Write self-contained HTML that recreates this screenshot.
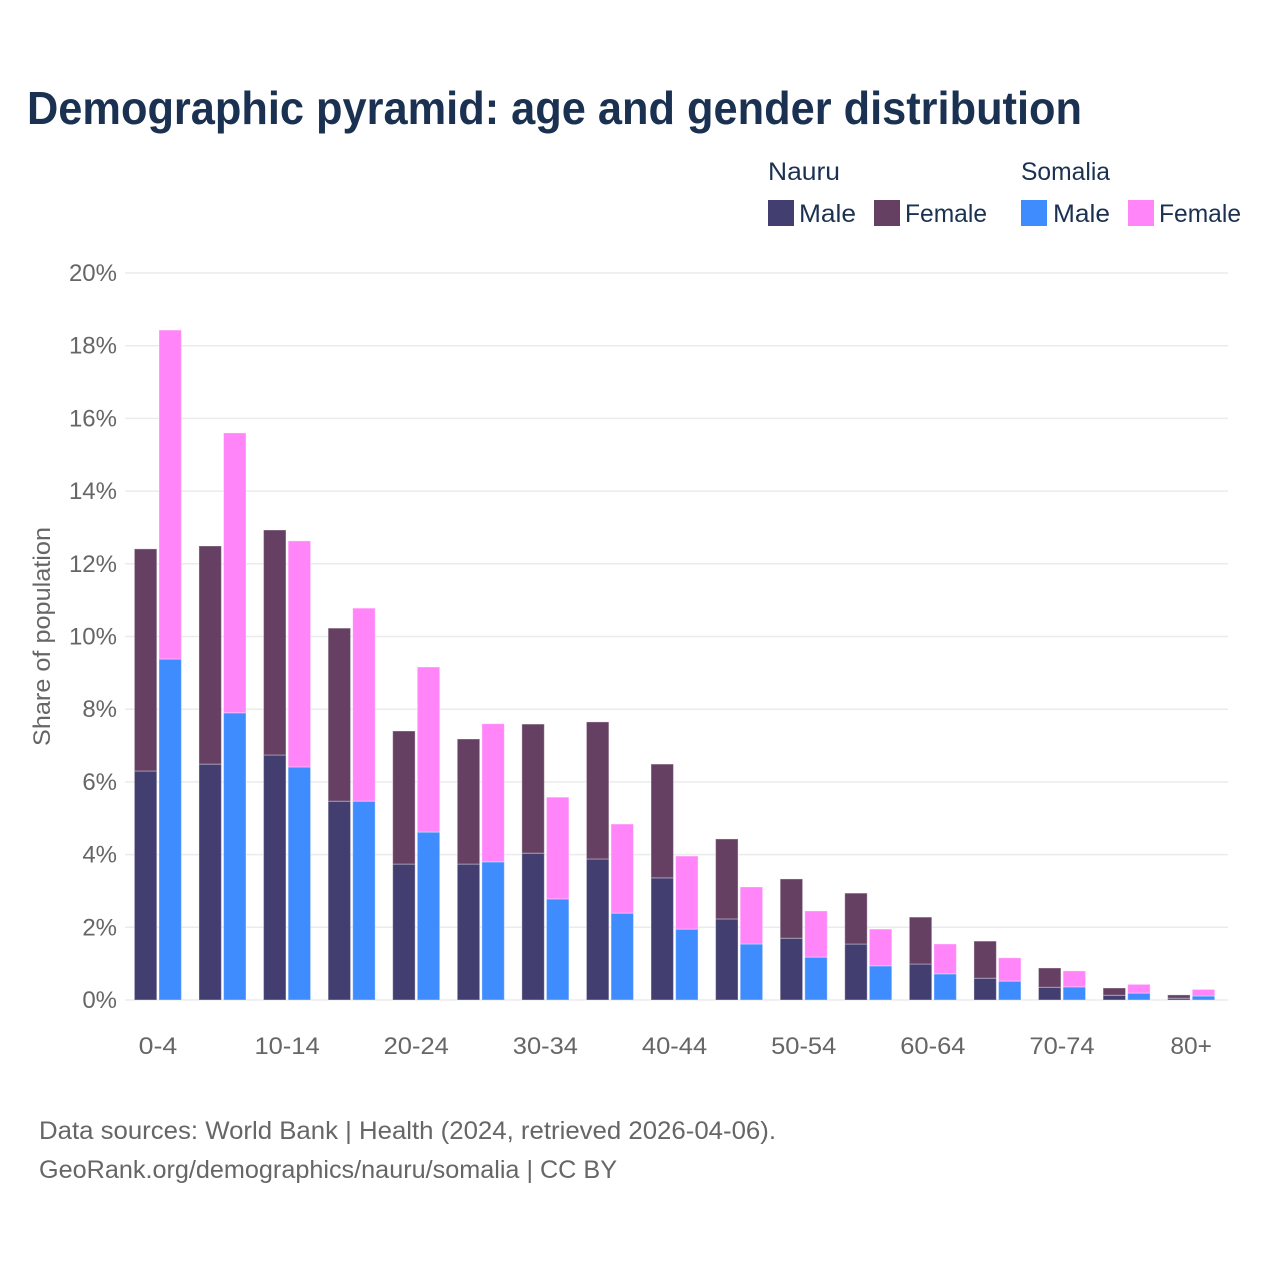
<!DOCTYPE html>
<html lang="en">
<head>
<meta charset="utf-8">
<title>Demographic pyramid</title>
<style>
html,body{margin:0;padding:0;background:#fff;width:1280px;height:1280px;overflow:hidden}
svg{display:block}
text{font-family:"Liberation Sans",sans-serif}
</style>
</head>
<body>
<svg id="chart" width="1280" height="1280" viewBox="0 0 1280 1280" xmlns="http://www.w3.org/2000/svg">
<rect width="1280" height="1280" fill="#fff"/>
<text x="27" y="124" font-size="46" font-weight="bold" fill="#1a3151" textLength="1055" lengthAdjust="spacingAndGlyphs">Demographic pyramid: age and gender distribution</text>
<g>
<text x="768" y="180" font-size="25" fill="#1a3151" textLength="72" lengthAdjust="spacingAndGlyphs">Nauru</text>
<text x="1021" y="180" font-size="25" fill="#1a3151" textLength="89" lengthAdjust="spacingAndGlyphs">Somalia</text>
<rect x="768" y="200" width="26" height="26" fill="#433e70"/>
<text x="799" y="222" font-size="25" fill="#1a3151" textLength="57" lengthAdjust="spacingAndGlyphs">Male</text>
<rect x="874" y="200" width="26" height="26" fill="#654062"/>
<text x="905" y="222" font-size="25" fill="#1a3151" textLength="82" lengthAdjust="spacingAndGlyphs">Female</text>
<rect x="1021" y="200" width="26" height="26" fill="#3f8cff"/>
<text x="1053" y="222" font-size="25" fill="#1a3151" textLength="57" lengthAdjust="spacingAndGlyphs">Male</text>
<rect x="1128" y="200" width="26" height="26" fill="#ff85f8"/>
<text x="1159" y="222" font-size="25" fill="#1a3151" textLength="82" lengthAdjust="spacingAndGlyphs">Female</text>
</g>
<g id="grid"></g>
<g id="yticks"></g>
<g id="bars"></g>
<g id="xticks"></g>
<text transform="translate(50,636.5) rotate(-90)" text-anchor="middle" font-size="24" fill="#666" textLength="219" lengthAdjust="spacingAndGlyphs">Share of population</text>
<text x="39" y="1139" font-size="25" fill="#666" textLength="737" lengthAdjust="spacingAndGlyphs">Data sources: World Bank | Health (2024, retrieved 2026-04-06).</text>
<text x="39" y="1178" font-size="25" fill="#666" textLength="578" lengthAdjust="spacingAndGlyphs">GeoRank.org/demographics/nauru/somalia | CC BY</text>
</svg>
<script>
const categories = ['0-4','5-9','10-14','15-19','20-24','25-29','30-34','35-39','40-44','45-49','50-54','55-59','60-64','65-69','70-74','75-79','80+'];
const tickedCategories = ['0-4','10-14','20-24','30-34','40-44','50-54','60-64','70-74','80+'];
const yTicks = [0,2,4,6,8,10,12,14,16,18,20];
const nauruMale = [6.30,6.49,6.74,5.47,3.74,3.74,4.04,3.88,3.36,2.23,1.70,1.54,0.99,0.60,0.35,0.13,0.05];
const nauruFemale = [6.11,6.00,6.19,4.76,3.66,3.44,3.55,3.77,3.13,2.20,1.63,1.40,1.29,1.02,0.53,0.20,0.09];
const somaliaMale = [9.38,7.90,6.41,5.47,4.62,3.80,2.78,2.39,1.95,1.54,1.18,0.94,0.72,0.52,0.36,0.19,0.11];
const somaliaFemale = [9.05,7.70,6.22,5.31,4.54,3.80,2.80,2.45,2.01,1.57,1.27,1.01,0.82,0.64,0.44,0.24,0.18];

const SVGNS = 'http://www.w3.org/2000/svg';
const y0 = 1000, pxPerUnit = 36.35;
const groupStart = 157.9, groupStep = 64.58, barW = 22.4;
const yScale = v => y0 - v * pxPerUnit;
const xScale = i => groupStart + i * groupStep;
const gridG = document.getElementById('grid');
const yG = document.getElementById('yticks');
const barsG = document.getElementById('bars');
const xG = document.getElementById('xticks');

yTicks.forEach(t => {
  const line = document.createElementNS(SVGNS, 'line');
  
  
  line.setAttribute('x1', 125);
  line.setAttribute('x2', 1228);
  line.setAttribute('y1', yScale(t));
  line.setAttribute('y2', yScale(t));
  line.setAttribute('stroke', '#ebebee');
  line.setAttribute('stroke-width', 1.5);
  gridG.appendChild(line);
  const label = document.createElementNS(SVGNS, 'text');
  
  
  label.setAttribute('x', 117);
  label.setAttribute('y', yScale(t) + 8);
  label.setAttribute('text-anchor', 'end');
  label.setAttribute('font-size', 24);
  label.setAttribute('fill', '#666');
  label.textContent = t + '%';
  yG.appendChild(label);
});

function drawSegment(x, bottom, value, fill) {
  const r = document.createElementNS(SVGNS, 'rect');
  
  
  r.setAttribute('x', x);
  r.setAttribute('y', yScale(bottom + value));
  r.setAttribute('width', barW);
  r.setAttribute('height', value * pxPerUnit);
  r.setAttribute('fill', fill);
  r.setAttribute('stroke', '#fff');
  r.setAttribute('stroke-opacity', 0.35);
  r.setAttribute('stroke-width', 1);
  barsG.appendChild(r);
}

categories.forEach((c, i) => {
  const cx = xScale(i);
  const xN = cx - barW - 1.1;
  const xS = cx + 1.1;
  drawSegment(xN, 0, nauruMale[i], '#433e70');
  drawSegment(xN, nauruMale[i], nauruFemale[i], '#654062');
  drawSegment(xS, 0, somaliaMale[i], '#3f8cff');
  drawSegment(xS, somaliaMale[i], somaliaFemale[i], '#ff85f8');
  if (tickedCategories.includes(c)) {
    const label = document.createElementNS(SVGNS, 'text');
    
    
    const digits = c.replace(/[^0-9]/g, '').length;
    const w = digits * 13.3 + (c.includes('-') ? 12 : 15);
    label.setAttribute('x', cx - w / 2);
    label.setAttribute('y', 1054);
    label.setAttribute('font-size', 24);
    label.setAttribute('fill', '#666');
    label.setAttribute('textLength', w);
    label.setAttribute('lengthAdjust', 'spacingAndGlyphs');
    label.textContent = c;
    xG.appendChild(label);
  }
});
</script>
</body>
</html>
